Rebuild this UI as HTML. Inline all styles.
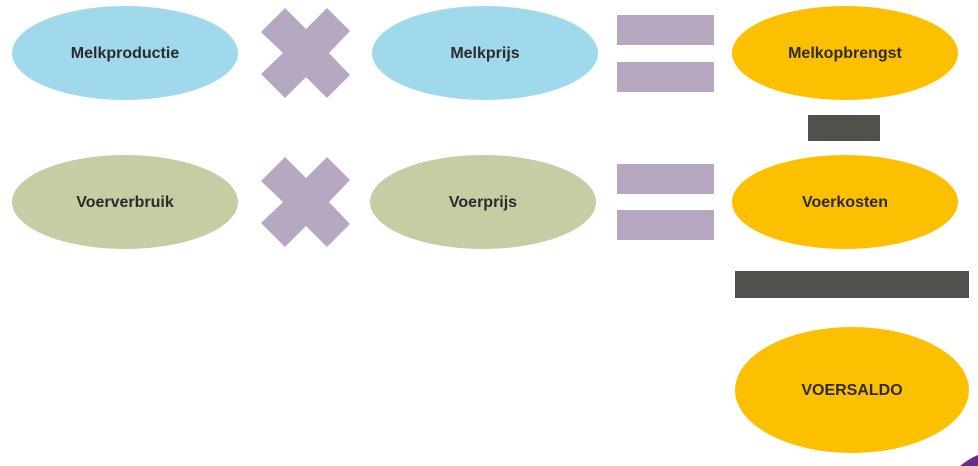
<!DOCTYPE html>
<html><head><meta charset="utf-8"><style>
html,body{margin:0;padding:0;background:#fff;}
svg{display:block;}
text{font-family:"Liberation Sans","DejaVu Sans",sans-serif;font-weight:bold;fill:#2b2b2b;font-size:16px;}
</style></head><body>
<svg width="978" height="466" viewBox="0 0 978 466" xmlns="http://www.w3.org/2000/svg">
<ellipse cx="125" cy="53" rx="113" ry="47" fill="#a0d9eb"/>
<ellipse cx="485" cy="53" rx="113" ry="47" fill="#a0d9eb"/>
<ellipse cx="845" cy="53" rx="113" ry="47" fill="#fdc000"/>
<ellipse cx="125" cy="202" rx="113" ry="47" fill="#c6cda4"/>
<ellipse cx="483" cy="202" rx="113" ry="47" fill="#c6cda4"/>
<ellipse cx="845" cy="202" rx="113" ry="47" fill="#fdc000"/>
<ellipse cx="852" cy="390" rx="117" ry="63" fill="#fdc000"/>
<g fill="#b7a8c2">
<path d="M261,32 L285,8 L306,29 L327,8 L350,31 L329,53 L350,75 L327,98 L306,77 L285,98 L261,74 L283,53 Z"/>
<path d="M261,181 L285,157 L306,178 L327,157 L350,180 L329,202 L350,224 L327,247 L306,226 L285,247 L261,223 L283,202 Z"/>
<rect x="617" y="15" width="97" height="30"/>
<rect x="617" y="62" width="97" height="30"/>
<rect x="617" y="164" width="97" height="30"/>
<rect x="617" y="210" width="97" height="30"/>
</g>
<rect x="808" y="115" width="72" height="26" fill="#4f514c"/>
<rect x="735" y="271" width="234" height="27" fill="#4f514c"/>
<path d="M960,466 Q970,458 978,455 L978,466 Z" fill="#6a2a8c"/>
<text x="125" y="58" text-anchor="middle">Melkproductie</text>
<text x="485" y="58" text-anchor="middle">Melkprijs</text>
<text x="845" y="58" text-anchor="middle">Melkopbrengst</text>
<text x="125" y="207" text-anchor="middle">Voerverbruik</text>
<text x="483" y="207" text-anchor="middle">Voerprijs</text>
<text x="845" y="207" text-anchor="middle">Voerkosten</text>
<text x="852" y="395" text-anchor="middle">VOERSALDO</text>
</svg>
</body></html>
